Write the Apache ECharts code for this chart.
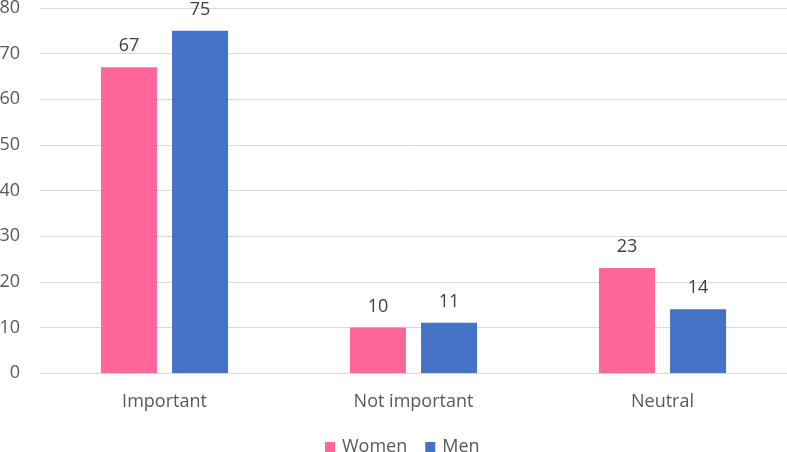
<!DOCTYPE html>
<html><head><meta charset="utf-8">
<script src="https://cdn.jsdelivr.net/npm/echarts@6/dist/echarts.min.js"></script>
<style>html,body{margin:0;padding:0;background:#fff}#c{width:787px;height:452px}</style>
</head><body><div id="c"></div>
<script>
const categories = ["Important", "Not important", "Neutral"];
const women = [67, 10, 23];
const men = [75, 11, 14];
const yTicks = [0, 10, 20, 30, 40, 50, 60, 70, 80];

const font = "'Open Sans', 'Noto Sans', sans-serif";
const chart = echarts.init(document.getElementById('c'), null, {renderer: 'canvas'});
chart.setOption({
  animation: false,
  textStyle: {fontFamily: font},
  grid: {left: 40, right: 0, top: 8, bottom: 79, containLabel: false, outerBoundsMode: 'none'},
  legend: {
    bottom: -9, left: 320, itemWidth: 10, itemHeight: 10, itemGap: 18,
    icon: 'rect',
    textStyle: {fontFamily: font, fontSize: 18, color: '#595959', padding: [0,0,0,2]},
    data: ['Women', 'Men']
  },
  xAxis: {
    type: 'category', data: categories,
    axisLine: {lineStyle: {color: '#d9d9d9', width: 1}},
    axisTick: {show: false},
    axisLabel: {fontFamily: font, fontSize: 18, color: '#595959', margin: 20}
  },
  yAxis: {
    type: 'value', min: yTicks[0], max: yTicks[yTicks.length-1], interval: 10,
    axisLine: {show: false}, axisTick: {show: false},
    axisLabel: {fontFamily: font, fontSize: 18, color: '#595959', margin: 20},
    splitLine: {lineStyle: {color: '#d9d9d9', width: 1}}
  },
  series: [
    {name: 'Women', type: 'bar', data: women, barWidth: 56, barGap: '27%',
     itemStyle: {color: '#FF6699'},
     label: {show: true, position: 'top', distance: 12, fontFamily: font, fontSize: 18, color: '#404040'}},
    {name: 'Men', type: 'bar', data: men, barWidth: 56,
     itemStyle: {color: '#4472C4'},
     label: {show: true, position: 'top', distance: 12, fontFamily: font, fontSize: 18, color: '#404040'}}
  ]
});
</script></body></html>
